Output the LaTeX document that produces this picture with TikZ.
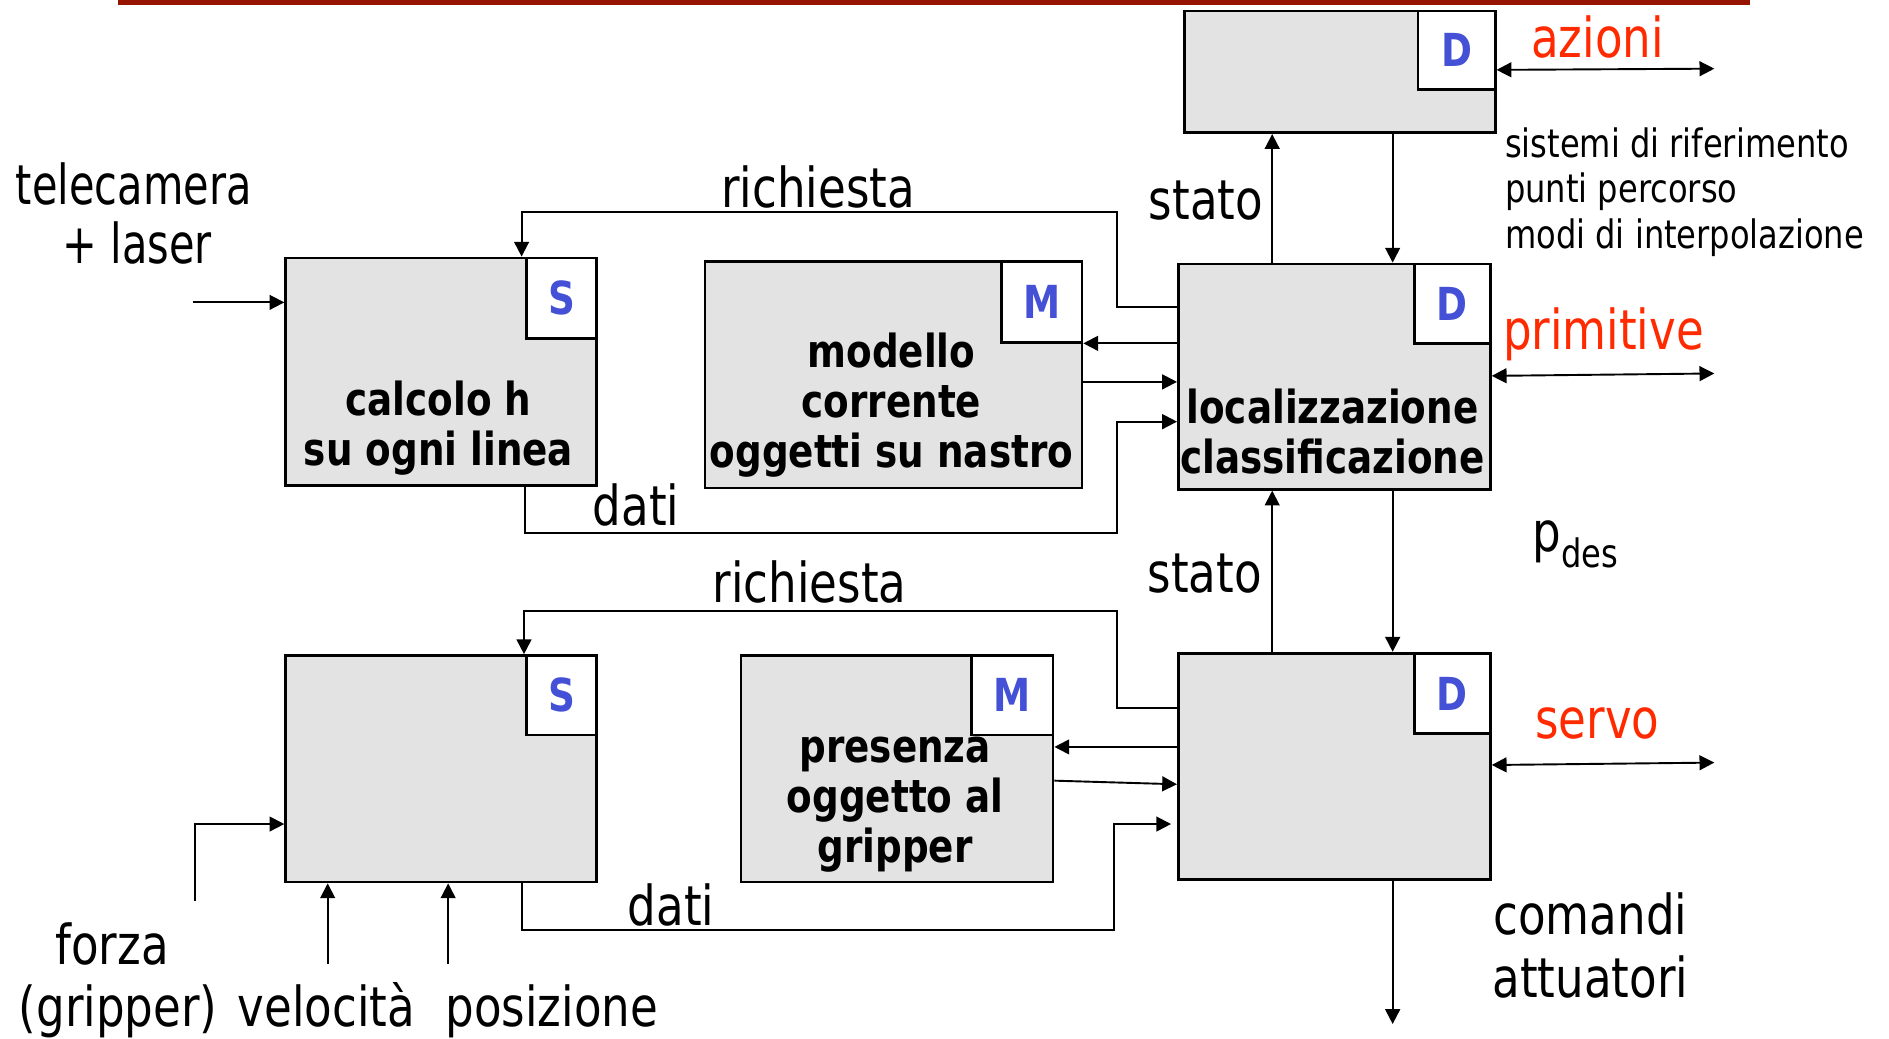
\documentclass[tikz,border=0pt]{standalone}
\usepackage{fontspec}
\setmainfont{DejaVu Sans}[FakeStretch=0.82]
\usetikzlibrary{arrows.meta,calc}

\definecolor{barred}{RGB}{148,20,0}
\definecolor{boxgray}{RGB}{227,227,227}
\definecolor{tagblue}{RGB}{68,80,214}
\definecolor{labred}{RGB}{255,42,0}

\tikzset{
  blk/.style={draw, line width=1.3pt, fill=boxgray, inner sep=0pt, anchor=north west},
  tagbox/.style={draw, line width=1.3pt, fill=white, inner sep=0pt, anchor=north east,
    text=tagblue, font=\fontsize{21.5}{24}\selectfont\bfseries},
  inner/.style={align=center, inner sep=0pt, anchor=base, font=\fontsize{21.5}{23.6}\selectfont\bfseries},
  lab/.style={inner sep=0pt, anchor=base, font=\fontsize{26}{29.5}\selectfont},
  small/.style={inner sep=0pt, anchor=base west, align=left, font=\fontsize{18.5}{21.4}\selectfont},
  redlab/.style={lab, text=labred},
  tip/.tip={Triangle[length=7pt,width=7pt]},
  arr/.style={line width=0.9pt, -tip},
  darr/.style={line width=0.9pt, tip-tip},
}

\begin{document}
\begin{tikzpicture}[x=0.02cm, y=-0.02cm]
\useasboundingbox (0,0) rectangle (1568,862);

% title rule
\fill[barred] (98,0) rectangle (1453,4);

% blocks
\node[blk, minimum width=5.16cm, minimum height=2.02cm] (T) at (982,8) {};
\node[blk, minimum width=5.18cm, minimum height=3.74cm] (L) at (977,218) {};
\node[blk, minimum width=5.18cm, minimum height=3.76cm] (B) at (977,541) {};
\node[blk, minimum width=5.16cm, minimum height=3.78cm] (S1) at (236,213) {};
\node[blk, minimum width=6.26cm, minimum height=3.76cm] (M1) at (584,216) {};
\node[blk, minimum width=5.16cm, minimum height=3.76cm] (S2) at (236,543) {};
\node[blk, minimum width=5.18cm, minimum height=3.76cm] (M2) at (614,543) {};

% corner tags
\node[tagbox, minimum width=1.28cm, minimum height=1.30cm] (Ttag) at (T.north east) {D};
\node[tagbox, minimum width=1.26cm, minimum height=1.32cm] (Ltag) at (L.north east) {D};
\node[tagbox, minimum width=1.26cm, minimum height=1.34cm] (Btag) at (B.north east) {D};
\node[tagbox, minimum width=1.16cm, minimum height=1.34cm] (S1tag) at (S1.north east) {S};
\node[tagbox, minimum width=1.34cm, minimum height=1.34cm] (M1tag) at (M1.north east) {M};
\node[tagbox, minimum width=1.16cm, minimum height=1.32cm] (S2tag) at (S2.north east) {S};
\node[tagbox, minimum width=1.36cm, minimum height=1.32cm] (M2tag) at (M2.north east) {M};

% block contents (anchored on the baseline of the last line)
\node[inner] (Ltxt) at (1106,393) {localizzazione\\classificazione};
\node[inner] (S1txt) at (364,386) {calcolo h\\su ogni linea};
\node[inner] (M1txt) at (740,388) {modello\\corrente\\oggetti su nastro};
\node[inner] (M2txt) at (743,716) {presenza\\oggetto al\\gripper};

% labels
\node[lab, xscale=0.92] (telecam) at (111,170) {telecamera};
\node[lab, xscale=0.92] (laser) at (114,219) {+ laser};
\node[lab] (req1) at (679,172) {richiesta};
\node[lab] (req2) at (672,500) {richiesta};
\node[lab] (st1) at (1001,182) {stato};
\node[lab] (st2) at (1000,492) {stato};
\node[lab] (dati1) at (528,436) {dati};
\node[lab] (dati2) at (557,768) {dati};
\node[redlab] (azioni) at (1326,48) {azioni};
\node[redlab] (primit) at (1331,290) {primitive};
\node[redlab] (servo) at (1326,613) {servo};
\node[small] (rif) at (1249,206) {sistemi di riferimento\\punti percorso\\modi di interpolazione};
\node[lab, anchor=base west] (pdes) at (1272,458) {p\raisebox{-0.28em}{\fontsize{18.5}{20}\selectfont des}};
\node[lab] (cmd) at (1320,776) {comandi};
\node[lab] (att) at (1320,828) {attuatori};
\node[lab] (forza) at (93,801) {forza};
\node[lab] (grip) at (98,852) {(gripper)};
\node[lab] (vel) at (271,852) {velocità};
\node[lab] (pos) at (458,852) {posizione};

% free ends of the external signals
\coordinate (camin) at (160,251);
\coordinate (azend) at (1423,57);
\coordinate (primend) at (1423,310);
\coordinate (servoend) at (1423,633);
\coordinate (fin) at (162,748);
\coordinate (vin) at (272,800);
\coordinate (pin) at (372,800);
\coordinate (cmdend) at (1156,850);

% upper level
\draw[arr] (camin) -- (camin -| S1.west);
\draw[arr] ($(L.north west)+(0,37)$) -- ++(-50,0) |- ($(S1tag.north west)+(-3,-37)$) -- ($(S1tag.north west)+(-3,0)$);
\coordinate (l2m) at ($(L.north west)+(0,67)$);
\draw[arr] (l2m) -- (l2m -| M1.east);
\coordinate (m2l) at ($(M1.north east)+(0,101)$);
\draw[arr] (m2l) -- (m2l -| L.west);
\coordinate (d1) at ($(L.north west)+(0,132)$);
\draw[arr] (S1tag.west |- S1.south) -- ++(0,38) -| ($(d1)+(-50,0)$) -- (d1);

% links between decision levels
\coordinate (s1) at ($(L.north west)+(79,0)$);
\draw[arr] (s1) -- (s1 |- T.south);
\coordinate (c1) at ($(T.south west)+(174,0)$);
\draw[arr] (c1) -- (c1 |- L.north);
\coordinate (s2) at ($(B.north west)+(79,0)$);
\draw[arr] (s2) -- (s2 |- L.south);
\coordinate (c2) at ($(L.south west)+(179,0)$);
\draw[arr] (c2) -- (c2 |- B.north);

% outputs on the right
\draw[darr] ($(T.north east)+(0,50)$) -- (azend);
\draw[darr] ($(L.north east)+(0,94)$) -- (primend);
\draw[darr] ($(B.north east)+(0,94)$) -- (servoend);
\coordinate (cmdst) at ($(B.south west)+(179,0)$);
\draw[arr] (cmdst) -- (cmdend);

% lower level
\draw[arr] ($(B.north west)+(0,47)$) -- ++(-50,0) |- ($(S2tag.north west)+(-1,-36)$) -- ($(S2tag.north west)+(-1,0)$);
\coordinate (b2m) at ($(B.north west)+(0,79)$);
\draw[arr] (b2m) -- (b2m -| M2.east);
\draw[arr] ($(M2.north east)+(0,105)$) -- ($(B.north west)+(0,110)$);
\coordinate (d2) at ($(B.north west)+(0,143)$);
\draw[arr, shorten >=2.8pt] ($(S2tag.west |- S2.south)+(-3,0)$) -- ++(0,39) -| ($(d2)+(-52,0)$) -- (d2);

% sensor inputs
\draw[arr] (fin) |- ($(S2.north west)+(0,141)$);
\draw[arr] (vin) -- (vin |- S2.south);
\draw[arr] (pin) -- (pin |- S2.south);
\end{tikzpicture}
\end{document}
